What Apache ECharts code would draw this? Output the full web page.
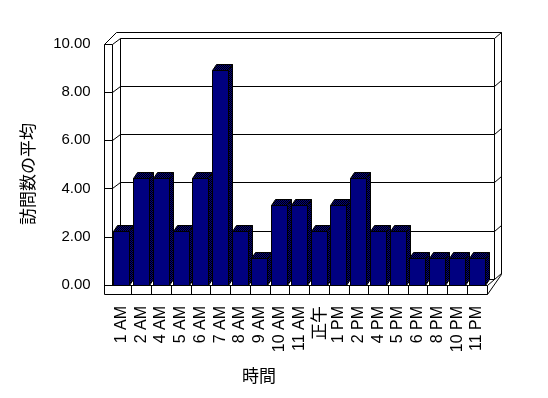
<!DOCTYPE html>
<html>
<head>
<meta charset="utf-8">
<script src="https://cdn.jsdelivr.net/npm/echarts@6/dist/echarts.min.js"></script>
<style>html,body{margin:0;padding:0;background:#fff;}#c{width:548px;height:398px;}</style>
</head>
<body>
<div id="c"></div>
<script>
const categories = ['1 AM','2 AM','4 AM','5 AM','6 AM','7 AM','8 AM','9 AM','10 AM','11 AM','正午','1 PM','2 PM','4 PM','5 PM','6 PM','8 PM','10 PM','11 PM'];
const visits = [2.22,4.44,4.44,2.22,4.44,8.89,2.22,1.11,3.33,3.33,2.22,3.33,4.44,2.22,2.22,1.11,1.11,1.11,1.11];
const yTicks = [0,2,4,6,8,10];
const yAxisName = '訪問数の平均';
const xAxisName = '時間';

const NAVY = '#000080';
const pc = document.createElement('canvas');
pc.width = 2; pc.height = 2;
const pctx = pc.getContext('2d');
pctx.fillStyle = NAVY; pctx.fillRect(0,0,2,2);
pctx.fillStyle = '#000'; pctx.fillRect(0,0,1,1); pctx.fillRect(1,1,1,1);
const dither = {image: pc, repeat: 'repeat'};

const P = v => Math.round(v) + 0.5;
const LS = {stroke:'#000', lineWidth:1, fill:null};
function line(x1,y1,x2,y2){ return {type:'line', shape:{x1:P(x1),y1:P(y1),x2:P(x2),y2:P(y2)}, style:LS, silent:true}; }

const chart = echarts.init(document.getElementById('c'), null, {renderer:'canvas'});

function renderWalls(params, api){
  const cs = params.coordSys;
  const x0 = cs.x, x1 = cs.x + cs.width;
  const yb = api.coord([0,0])[1];
  const yt = api.coord([0,yTicks[yTicks.length-1]])[1];
  const sl = 8;      // front slab thickness
  const wdx = 8, wdy = 6; // wall depth
  const fl = 9;      // floor thickness
  const ch = [];
  ch.push(line(x0-sl, yb+fl, x1, yb+fl));
  ch.push(line(x0-sl, yb+fl, x0-sl, yt));
  ch.push(line(x0-sl, yt, x0+4, yt-2*wdy));
  ch.push(line(x0+4, yt-2*wdy, x1+2*wdx-2, yt-2*wdy));
  ch.push(line(x1+2*wdx-2, yt-2*wdy, x1+2*wdx-2, yb-11));
  ch.push(line(x1+2*wdx-2, yb-11, x1, yb+fl));
  ch.push(line(x0, yt, x0, yb));
  ch.push(line(x0+wdx, yt-wdy, x0+wdx, yb-wdy));
  ch.push(line(x1+wdx-1, yt-wdy, x1+wdx-1, yb-wdy));
  ch.push(line(x0-sl, yb, x1, yb));
  ch.push(line(x1, yb, x1+wdx-1, yb-wdy));
  ch.push(line(x1, yb, x1, yb+fl));
  yTicks.forEach(t => {
    const y = api.coord([0,t])[1];
    ch.push(line(x0-sl, y, x0, y));
    ch.push(line(x0, y, x0+wdx, y-wdy));
    ch.push(line(x0+wdx, y-wdy, x1+wdx-1, y-wdy));
    ch.push(line(x1+wdx-1, y-wdy, x1+2*wdx-2, y-2*wdy));
  });
  const cw = api.size([1,0])[0];
  for (let i = 1; i < categories.length; i++) {
    const x = x0 + i*cw;
    ch.push(line(x, yb, x, yb+fl));
  }
  return {type:'group', children: ch};
}

function renderBar(params, api){
  const idx = api.value(0), v = api.value(1);
  const top = api.coord([idx, v]);
  const base = api.coord([idx, 0]);
  const cw = api.size([1,0])[0];
  const xL = P(top[0] - cw/2 + 1.6);
  const xR = xL + 16;
  const yT = P(top[1]);
  const yB = P(base[1]);
  const dx = 4, dy = 6;
  const st = {fill: dither, stroke:'#000', lineWidth:1};
  return {type:'group', children:[
    {type:'polygon', shape:{points:[[xR,yT],[xR+dx,yT-dy],[xR+dx,yB-dy],[xR,yB]]}, style:st},
    {type:'polygon', shape:{points:[[xL,yT],[xL+dx,yT-dy],[xR+dx,yT-dy],[xR,yT]]}, style:st},
    {type:'rect', shape:{x:xL, y:yT, width:xR-xL, height:yB-yT}, style:{fill:NAVY, stroke:'#000', lineWidth:1}}
  ]};
}

chart.setOption({
  animation:false,
  backgroundColor:'#fff',
  grid:{left:111.7, right:61.3, top:43.5, bottom:113, containLabel:false},
  xAxis:{
    type:'category', data:categories,
    axisLine:{show:false}, axisTick:{show:false}, splitLine:{show:false},
    axisLabel:{
      rotate:90, margin:21, color:'#000', fontSize:16, fontFamily:'"Liberation Sans", sans-serif', interval:0,
      formatter: v => /[^\x00-\x7F]/.test(v) ? '{cjk|' + v + '}' : v,
      rich:{cjk:{fontSize:17, fontFamily:'"Noto Sans CJK JP"', color:'#000'}}
    }
  },
  yAxis:{
    type:'value', min:yTicks[0], max:yTicks[yTicks.length-1], interval:2,
    axisLine:{show:false}, axisTick:{show:false}, splitLine:{show:false},
    axisLabel:{margin:21, color:'#000', fontSize:15, fontFamily:'"Liberation Sans", sans-serif', formatter: v => v.toFixed(2)}
  },
  graphic:[
    {type:'text', x:28, y:174, rotation:Math.PI/2, style:{text:yAxisName, fill:'#000', font:'17px "Noto Sans CJK JP"', align:'center', verticalAlign:'middle'}},
    {type:'text', x:259, y:376, style:{text:xAxisName, fill:'#000', font:'17px "Noto Sans CJK JP"', align:'center', verticalAlign:'middle'}}
  ],
  series:[
    {type:'custom', renderItem:renderWalls, data:[[0,0]], clip:false, z:1, silent:true},
    {type:'custom', renderItem:renderBar, data:visits.map((v,i)=>[i,v]), clip:false, z:2, silent:true, encode:{x:0,y:1}}
  ]
});
</script>
</body>
</html>
